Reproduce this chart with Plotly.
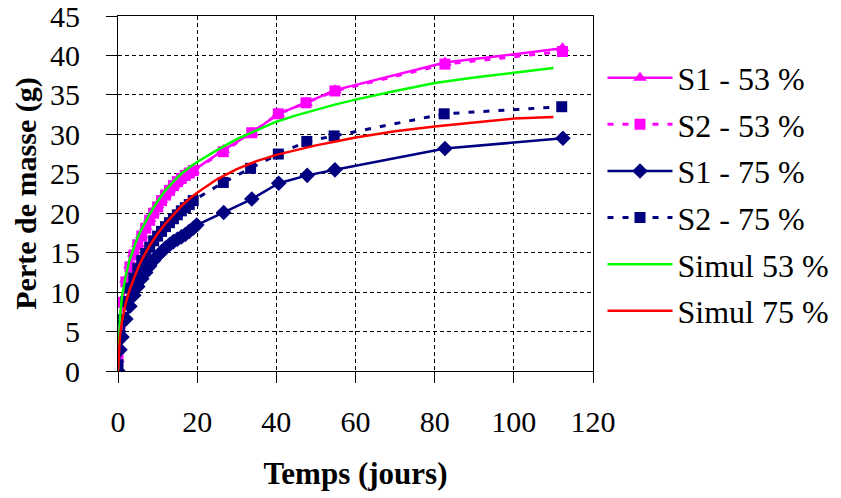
import plotly.graph_objects as go

# ---- data ----
s1_53_x = [0, 0.5, 1, 2, 3, 4, 5, 6, 7, 8, 9, 10, 11, 12, 13, 14, 15, 16, 17, 18, 19, 26.6, 33.8, 40.5, 47.5, 54.8, 82.6, 112.3]
s1_53_y = [1.5, 6.5, 9.0, 11.6, 13.4, 14.9, 16.1, 17.2, 18.3, 19.3, 20.2, 21.0, 21.7, 22.4, 23.0, 23.5, 24.0, 24.5, 24.9, 25.2, 25.4, 28.0, 30.2, 32.6, 34.0, 35.6, 39.1, 40.9]

s2_53_x = [0, 0.5, 1, 2, 3, 4, 5, 6, 7, 8, 9, 10, 11, 12, 13, 14, 15, 16, 17, 18, 19, 26.6, 33.8, 40.5, 47.5, 54.8, 82.6, 112.3]
s2_53_y = [1.8, 6.0, 8.7, 11.3, 13.2, 14.7, 16.0, 17.1, 18.1, 19.1, 20.0, 20.8, 21.6, 22.3, 22.9, 23.5, 24.0, 24.4, 24.8, 25.1, 25.4, 27.8, 30.2, 32.6, 34.0, 35.5, 38.9, 40.5]

s1_75_x = [0, 0.5, 1, 2, 3, 4, 5, 6, 7, 8, 9, 10, 11, 12, 13, 14, 15, 16, 17, 18, 19, 19.9, 26.7, 33.8, 40.6, 47.8, 54.8, 82.6, 112.4]
s1_75_y = [0.0, 2.7, 4.3, 6.6, 8.2, 9.6, 10.7, 11.7, 12.5, 13.3, 14.0, 14.6, 15.1, 15.6, 16.0, 16.4, 16.7, 17.0, 17.3, 17.7, 18.1, 18.5, 20.1, 21.8, 23.8, 24.8, 25.5, 28.2, 29.5]

s2_75_x = [0, 0.5, 1, 2, 3, 4, 5, 6, 7, 8, 9, 10, 11, 12, 13, 14, 15, 16, 17, 18, 19, 26.6, 33.5, 40.5, 47.7, 54.6, 82.4, 112.1]
s2_75_y = [0.8, 4.5, 6.5, 8.8, 10.5, 11.8, 13.0, 14.0, 14.9, 15.7, 16.5, 17.1, 17.7, 18.3, 18.8, 19.3, 19.8, 20.3, 20.7, 21.1, 21.6, 23.9, 25.7, 27.5, 29.1, 29.8, 32.6, 33.5]

sim53_x = [0, 0.5, 1, 2, 3, 4, 5, 6, 8, 10, 12, 14, 16, 18, 20, 25, 30, 35, 40, 45, 50, 55, 60, 70, 80, 90, 100, 110]
sim53_y = [0.0, 6.8, 9.4, 12.2, 14.2, 15.7, 17.0, 18.0, 19.9, 21.5, 22.9, 24.0, 25.0, 25.8, 26.5, 28.0, 29.4, 30.5, 31.6, 32.4, 33.1, 33.8, 34.4, 35.5, 36.5, 37.2, 37.8, 38.4]

sim75_x = [0, 0.5, 1, 2, 3, 4, 5, 6, 8, 10, 12, 14, 16, 18, 20, 25, 30, 35, 40, 45, 50, 55, 60, 70, 80, 90, 100, 110]
sim75_y = [0.0, 4.4, 6.3, 8.7, 10.4, 11.8, 13.0, 14.1, 15.9, 17.4, 18.7, 19.8, 20.9, 21.8, 22.6, 24.3, 25.6, 26.6, 27.4, 28.0, 28.6, 29.1, 29.6, 30.4, 31.0, 31.5, 32.0, 32.2]

names = ["S1 - 53 %", "S2 - 53 %", "S1 - 75 %", "S2 - 75 %", "Simul 53 %", "Simul 75 %"]
x_ticks = [0, 20, 40, 60, 80, 100, 120]
y_ticks = [0, 5, 10, 15, 20, 25, 30, 35, 40, 45]

MAG = "#FF00FF"
NAVY = "#000080"
FONT = "Liberation Serif"

fig = go.Figure()
fig.add_trace(go.Scatter(x=s1_53_x, y=s1_53_y, name=names[0], mode="lines+markers", legendgroup="a",
                         line=dict(color=MAG, width=2.5),
                         marker=dict(symbol="triangle-up", size=12, color=MAG)))
fig.add_trace(go.Scatter(x=s2_53_x, y=s2_53_y, name=names[1], mode="lines+markers", legendgroup="b",
                         line=dict(color=MAG, width=3, dash="6px,9px"),
                         marker=dict(symbol="square", size=11, color=MAG)))
fig.add_trace(go.Scatter(x=s1_75_x, y=s1_75_y, name=names[2], mode="lines+markers", legendgroup="c",
                         line=dict(color=NAVY, width=2.5),
                         marker=dict(symbol="diamond", size=12, color=NAVY)))
fig.add_trace(go.Scatter(x=s2_75_x, y=s2_75_y, name=names[3], mode="lines+markers", legendgroup="d",
                         line=dict(color=NAVY, width=3, dash="6px,9px"),
                         marker=dict(symbol="square", size=11, color=NAVY)))
fig.add_trace(go.Scatter(x=sim53_x, y=sim53_y, name=names[4], mode="lines", legendgroup="e",
                         line=dict(color="#00FF00", width=2.5)))
fig.add_trace(go.Scatter(x=sim75_x, y=sim75_y, name=names[5], mode="lines", legendgroup="f",
                         line=dict(color="#FF0000", width=2.5)))

axis_common = dict(
    showline=True, linecolor="black", linewidth=1, mirror=True,
    showgrid=True, gridcolor="black", gridwidth=1, griddash="4px,3px",
    ticks="outside", ticklen=11, tickcolor="black", tickwidth=1,
    zeroline=False, ticklabeloverflow="allow",
    tickfont=dict(family=FONT, size=30, color="black"),
)

fig.update_xaxes(range=[0, 120], tickvals=x_ticks, ticktext=[str(v) for v in x_ticks],
                 ticklabelstandoff=13,
                 title=dict(text="<b>Temps (jours)</b>", font=dict(family=FONT, size=31, color="black"), standoff=25),
                 **axis_common)
fig.update_yaxes(range=[0, 45], tickvals=y_ticks, ticktext=[str(v) for v in y_ticks],
                 ticklabelstandoff=20,
                 title=dict(text="<b>Perte de masse (g)</b>", font=dict(family=FONT, size=30, color="black"), standoff=4),
                 **axis_common)

# the page body adds an 8px offset, so the figure is 8px smaller and margins shifted
fig.update_layout(
    width=833, height=490,
    margin=dict(l=110, r=248, t=8, b=127, autoexpand=False),
    paper_bgcolor="white", plot_bgcolor="white",
    font=dict(family=FONT, size=30, color="black"),
    legend=dict(x=1.02, xanchor="left", y=0.903, yanchor="top",
                font=dict(family=FONT, size=32, color="black"),
                bgcolor="rgba(0,0,0,0)", itemwidth=65, tracegroupgap=2),
    showlegend=True,
)

fig.write_html("out.html")
